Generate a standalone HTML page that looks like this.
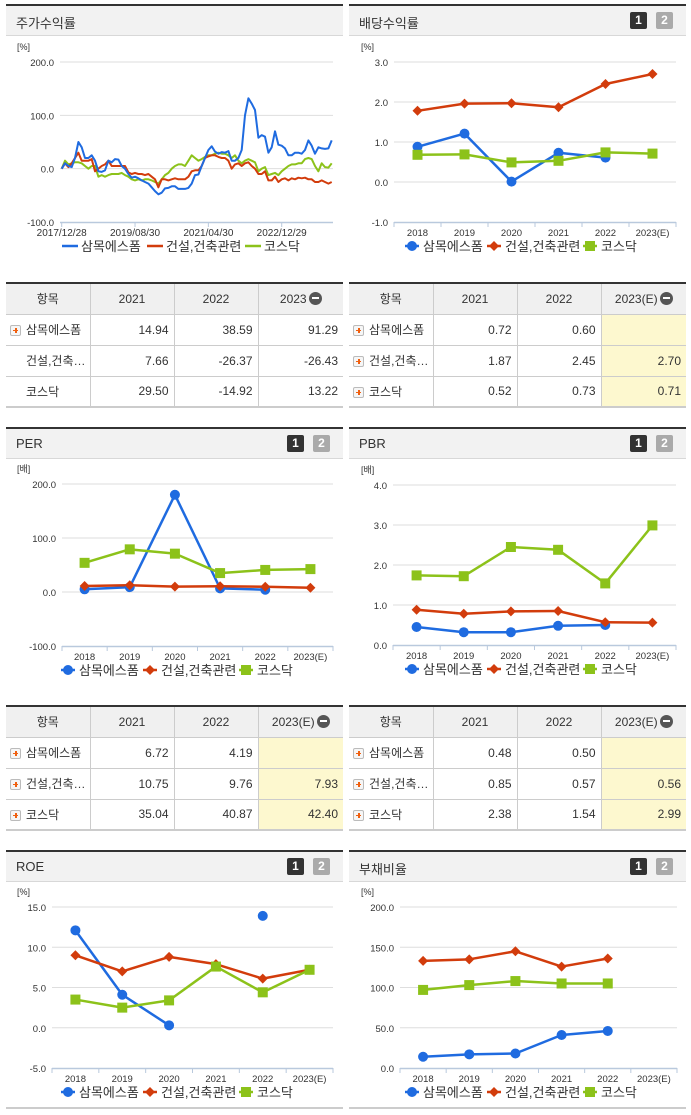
<!DOCTYPE html>
<html><head><meta charset="utf-8">
<style>
*{margin:0;padding:0;box-sizing:border-box}
body{width:691px;height:1115px;background:#fff;position:relative;overflow:hidden;font-family:"Liberation Sans","Noto Sans CJK KR",sans-serif;color:#333}
.ph{position:absolute;height:32px;background:#f2f2f2;border-top:2px solid #333;border-bottom:1px solid #d8d8d8}
.ph .t{position:absolute;left:10px;top:7px;font-size:13px;color:#333}
.b1,.b2{position:absolute;top:6px;width:17px;height:17px;font:bold 12px "Liberation Sans",sans-serif;color:#fff;text-align:center;line-height:17px;border-radius:2px}
.b1{background:#333}.b2{background:#aaa}
table{position:absolute;border-collapse:collapse;font-size:12px;table-layout:fixed;width:337px;background:#fff;border-top:2px solid #333;border-bottom:2px solid #ccc;z-index:2}
th{background:#f0f0f0;font-weight:normal;height:31px;border-left:1px solid #ccc;border-bottom:1px solid #ccc;text-align:center;color:#333;white-space:nowrap}
th.c0{width:84px}th.c1{width:84px}th.c2{width:84px}th.c3{width:85px}
td{height:31px;background:#fff;border-left:1px solid #ccc;border-bottom:1px solid #ccc;text-align:right;padding-right:5px;color:#333}
th:first-child,td:first-child{border-left:none}
td.l{text-align:left;padding-left:20px;position:relative;white-space:nowrap;overflow:hidden}
td.y{background:#fdf8cf}
.pl{position:absolute;left:4px;top:10px;width:11px;height:11px;border:1px solid #bbb;background:#f6f6f6;border-radius:2px}
.pl:before{content:"";position:absolute;left:2px;top:4px;width:5px;height:1.5px;background:#f06010}
.pl:after{content:"";position:absolute;left:4px;top:2px;width:1.5px;height:5px;background:#f06010}
.mi{display:inline-block;width:13px;height:13px;border-radius:50%;background:#555;vertical-align:-2px;margin-left:2px;position:relative}
.mi:after{content:"";position:absolute;left:3px;top:5.5px;width:7px;height:2px;background:#fff}
svg{position:absolute;left:0;top:0}
</style></head><body>
<svg id="chart" width="691" height="1115"></svg>

<div class="ph" style="left:6px;top:4px;width:337px"><span class="t">주가수익률</span></div>
<div class="ph" style="left:349px;top:4px;width:337px"><span class="t">배당수익률</span><span class="b1" style="left:281px">1</span><span class="b2" style="left:307px">2</span></div>
<div class="ph" style="left:6px;top:427px;width:337px"><span class="t">PER</span><span class="b1" style="left:281px">1</span><span class="b2" style="left:307px">2</span></div>
<div class="ph" style="left:349px;top:427px;width:337px"><span class="t">PBR</span><span class="b1" style="left:281px">1</span><span class="b2" style="left:307px">2</span></div>
<div class="ph" style="left:6px;top:850px;width:337px"><span class="t">ROE</span><span class="b1" style="left:281px">1</span><span class="b2" style="left:307px">2</span></div>
<div class="ph" style="left:349px;top:850px;width:337px"><span class="t">부채비율</span><span class="b1" style="left:281px">1</span><span class="b2" style="left:307px">2</span></div>
<div style="position:absolute;left:6px;top:1107px;width:337px;height:2px;background:#ccc"></div>
<div style="position:absolute;left:349px;top:1107px;width:337px;height:2px;background:#ccc"></div>

<table style="left:6px;top:282px">
<tr><th class="c0">항목</th><th class="c1">2021</th><th class="c2">2022</th><th class="c3">2023<span class="mi"></span></th></tr>
<tr><td class="l"><span class="pl"></span>삼목에스폼</td><td>14.94</td><td>38.59</td><td>91.29</td></tr>
<tr><td class="l">건설,건축…</td><td>7.66</td><td>-26.37</td><td>-26.43</td></tr>
<tr><td class="l">코스닥</td><td>29.50</td><td>-14.92</td><td>13.22</td></tr>
</table>
<table style="left:349px;top:282px">
<tr><th class="c0">항목</th><th class="c1">2021</th><th class="c2">2022</th><th class="c3">2023(E)<span class="mi"></span></th></tr>
<tr><td class="l"><span class="pl"></span>삼목에스폼</td><td>0.72</td><td>0.60</td><td class="y"></td></tr>
<tr><td class="l"><span class="pl"></span>건설,건축…</td><td>1.87</td><td>2.45</td><td class="y">2.70</td></tr>
<tr><td class="l"><span class="pl"></span>코스닥</td><td>0.52</td><td>0.73</td><td class="y">0.71</td></tr>
</table>
<table style="left:6px;top:705px">
<tr><th class="c0">항목</th><th class="c1">2021</th><th class="c2">2022</th><th class="c3">2023(E)<span class="mi"></span></th></tr>
<tr><td class="l"><span class="pl"></span>삼목에스폼</td><td>6.72</td><td>4.19</td><td class="y"></td></tr>
<tr><td class="l"><span class="pl"></span>건설,건축…</td><td>10.75</td><td>9.76</td><td class="y">7.93</td></tr>
<tr><td class="l"><span class="pl"></span>코스닥</td><td>35.04</td><td>40.87</td><td class="y">42.40</td></tr>
</table>
<table style="left:349px;top:705px">
<tr><th class="c0">항목</th><th class="c1">2021</th><th class="c2">2022</th><th class="c3">2023(E)<span class="mi"></span></th></tr>
<tr><td class="l"><span class="pl"></span>삼목에스폼</td><td>0.48</td><td>0.50</td><td class="y"></td></tr>
<tr><td class="l"><span class="pl"></span>건설,건축…</td><td>0.85</td><td>0.57</td><td class="y">0.56</td></tr>
<tr><td class="l"><span class="pl"></span>코스닥</td><td>2.38</td><td>1.54</td><td class="y">2.99</td></tr>
</table>

<script>
const cats = ['2018','2019','2020','2021','2022','2023(E)'];
const names = ['삼목에스폼','건설,건축관련','코스닥'];
// stock return time series (equal-spaced samples)
const dateTicks = ['2017/12/28','2019/08/30','2021/04/30','2022/12/29'];
const dateTickIdx = [0, 22, 44, 66];
const retSamok = [0,10,5,3,20,50,40,20,20,25,15,-5,-6,-3,15,12,18,17,5,0,-10,-17,-15,-18,-22,-25,-28,-35,-42,-48,-45,-37,-36,-33,-33,-38,-38,-38,-36,-28,-12,-11,5,20,35,42,32,28,31,30,33,15,15,20,35,100,132,122,110,58,63,60,30,40,70,45,43,38,25,25,30,30,28,35,53,43,28,40,38,37,38,53];
const retBuild = [0,10,3,10,20,30,15,15,15,18,-5,0,5,8,15,5,5,5,5,5,-7,-10,-8,-10,-10,-12,-10,-15,-20,-35,-20,-20,-22,-20,-18,-20,-20,-20,-15,-5,-3,-3,5,20,23,25,25,22,20,20,15,0,8,10,5,10,12,5,0,-10,-10,-5,-22,-22,-15,-25,-20,-18,-22,-18,-20,-17,-18,-17,-20,-20,-25,-25,-22,-25,-28,-25];
const retKosdaq = [0,15,8,10,12,12,10,5,0,5,5,-15,-12,-15,-12,-10,-10,-10,-8,-12,-15,-20,-22,-20,-22,-20,-20,-22,-25,-28,-20,-12,-8,0,5,8,8,5,15,25,20,15,18,22,25,25,28,30,28,28,25,20,25,15,10,15,18,15,12,-5,0,3,-12,-10,-8,-12,-5,0,5,8,8,10,10,18,20,18,5,-5,10,3,2,10];
const retTicks = [200,100,0,-100];
// dividend yield
const divSamok = [0.88,1.21,0.01,0.73,0.61,null];
const divBuild = [1.78,1.96,1.97,1.87,2.45,2.70];
const divKosdaq = [0.68,0.69,0.49,0.53,0.74,0.71];
const divTicks = [3,2,1,0,-1];
// PER
const perSamok = [5,9,180,6.72,4.19,null];
const perBuild = [11,12.5,10,10.75,9.76,7.93];
const perKosdaq = [54,79,71,35.04,40.87,42.40];
const perTicks = [200,100,0,-100];
// PBR
const pbrSamok = [0.45,0.32,0.32,0.48,0.50,null];
const pbrBuild = [0.88,0.78,0.84,0.85,0.57,0.56];
const pbrKosdaq = [1.74,1.72,2.45,2.38,1.54,2.99];
const pbrTicks = [4,3,2,1,0];
// ROE
const roeSamok = [12.1,4.1,0.3,null,13.9,null];
const roeBuild = [9.0,7.0,8.8,7.9,6.1,7.2];
const roeKosdaq = [3.5,2.5,3.4,7.6,4.4,7.2];
const roeTicks = [15,10,5,0,-5];
// debt ratio
const debtSamok = [14,17,18,41,46,null];
const debtBuild = [133,135,145,126,136,null];
const debtKosdaq = [97,103,108,105,105,null];
const debtTicks = [200,150,100,50,0];

const NS='http://www.w3.org/2000/svg';
const svg=document.getElementById('chart');
const C=['#1f6be0','#d23c0c','#8cc21a'];
function mk(tag,attrs,parent){const e=document.createElementNS(NS,tag);for(const k in attrs)e.setAttribute(k,attrs[k]);(parent||svg).appendChild(e);return e;}
function txt(x,y,s,size,anchor,fill,parent){const e=mk('text',{x:x,y:y,'font-size':size,'text-anchor':anchor||'start',fill:fill||'#333','font-family':'"Liberation Sans","Noto Sans CJK KR",sans-serif'},parent);e.textContent=s;return e;}

function axes(g,cfg,ticks,unit){
  const ys=v=>cfg.pyT+(cfg.tT-v)/(cfg.tT-cfg.tB)*(cfg.pyB-cfg.pyT);
  txt(cfg.ux,cfg.pyT-12,unit,9,'start','#333',g);
  ticks.forEach((t,i)=>{
    const y=ys(t);
    const lab=txt(cfg.ax0-6,y+4,t.toFixed(1),9.5,'end','#333',g);
    
    
    if(i<ticks.length-1){const l=mk('line',{x1:cfg.ax0,x2:cfg.ax1,y1:y,y2:y,stroke:'#dedede','stroke-width':1},g);
      }
  });
  const ax=mk('line',{x1:cfg.ax0,x2:cfg.ax1,y1:cfg.pyB+0.5,y2:cfg.pyB+0.5,stroke:'#b9c9dd','stroke-width':1.5},g);
  
  return ys;
}
function marker(g,type,x,y,col){
  let m;
  if(type==0)m=mk('circle',{cx:x,cy:y,r:5,fill:col},g);
  else if(type==1)m=mk('path',{d:`M${x} ${y-5}L${x+5} ${y}L${x} ${y+5}L${x-5} ${y}Z`,fill:col},g);
  else m=mk('rect',{x:x-5,y:y-5,width:10,height:10,fill:col},g);
  return m;
}
function legend(g,x0,y,lineOnly){
  const off=[0,82,178];
  names.forEach((n,i)=>{
    const x=x0+off[i];
    mk('line',{x1:x-7,x2:x+7,y1:y,y2:y,stroke:C[i],'stroke-width':2.5},g);
    if(!lineOnly)marker(g,i,x,y,C[i]);
    const t=txt(x+11,y+5,n,13,'start','#333',g);
    
    
  });
}
function catChart(name,cfg,ticks,unit,series,legX){
  const g=mk('g',{});
  
  
  const ys=axes(g,cfg,ticks,unit);
  const bw=(cfg.ax1-cfg.ax0)/cats.length;
  const xs=i=>cfg.ax0+bw*(i+0.5);
  cats.forEach((c,i)=>{
    mk('line',{x1:cfg.ax0+bw*i,x2:cfg.ax0+bw*i,y1:cfg.pyB,y2:cfg.pyB+5,stroke:'#b9c9dd'},g);
    const t=txt(xs(i),cfg.pyB+14,c,9.5,'middle','#333',g);
    
  });
  mk('line',{x1:cfg.ax1,x2:cfg.ax1,y1:cfg.pyB,y2:cfg.pyB+5,stroke:'#b9c9dd'},g);
  series.forEach((vals,si)=>{
    for(let i=0;i<vals.length-1;i++){
      if(vals[i]!=null&&vals[i+1]!=null){
        const l=mk('line',{x1:xs(i),y1:ys(vals[i]),x2:xs(i+1),y2:ys(vals[i+1]),stroke:C[si],'stroke-width':2.5},g);
        
      }
    }
  });
  series.forEach((vals,si)=>{
    vals.forEach((v,i)=>{ if(v==null)return;
      const m=marker(g,si,xs(i),ys(v),C[si]);
      
      
    });
  });
  legend(g,legX,cfg.pyB+24,false);
}

// stock return line chart
(function(){
  const g=mk('g',{});
  
  
  const cfg={ax0:60,ax1:333,pyT:62,pyB:222,tT:200,tB:-100,ux:17};
  const ys=axes(g,cfg,retTicks,'[%]');
  const n=retSamok.length;
  const xs=i=>61.7+i*(270/(n-1));
  dateTicks.forEach((d,k)=>{
    const x=xs(dateTickIdx[k]);
    mk('line',{x1:x,x2:x,y1:cfg.pyB,y2:cfg.pyB+5,stroke:'#b9c9dd'},g);
    const t=txt(x,cfg.pyB+14,d,10,'middle','#333',g);
    
  });
  [retKosdaq,retBuild,retSamok].forEach((vals,k)=>{
    const si=2-k;
    const p=mk('polyline',{points:vals.map((v,i)=>xs(i).toFixed(1)+','+ys(v).toFixed(1)).join(' '),fill:'none',stroke:C[si],'stroke-width':2,'stroke-linejoin':'round'},g);
    
    
  });
  const lx=[70,155,253];
  names.forEach((nm,i)=>{
    mk('line',{x1:lx[i]-8,x2:lx[i]+8,y1:246,y2:246,stroke:C[i],'stroke-width':2.5},g);
    const t=txt(lx[i]+11,251,nm,13,'start','#333',g);
    
    
  });
})();

catChart('dividend-chart',{ax0:394,ax1:676,pyT:62,pyB:222,tT:3,tB:-1,ux:361},divTicks,'[%]',[divSamok,divBuild,divKosdaq],412);
catChart('per-chart',{ax0:62,ax1:333,pyT:484,pyB:646,tT:200,tB:-100,ux:17},perTicks,'[배]',[perSamok,perBuild,perKosdaq],68);
catChart('pbr-chart',{ax0:393,ax1:676,pyT:485,pyB:645,tT:4,tB:0,ux:361},pbrTicks,'[배]',[pbrSamok,pbrBuild,pbrKosdaq],412);
catChart('roe-chart',{ax0:52,ax1:333,pyT:907,pyB:1068,tT:15,tB:-5,ux:17},roeTicks,'[%]',[roeSamok,roeBuild,roeKosdaq],68);
catChart('debt-ratio-chart',{ax0:400,ax1:677,pyT:907,pyB:1068,tT:200,tB:0,ux:361},debtTicks,'[%]',[debtSamok,debtBuild,debtKosdaq],412);
</script>
</body></html>
